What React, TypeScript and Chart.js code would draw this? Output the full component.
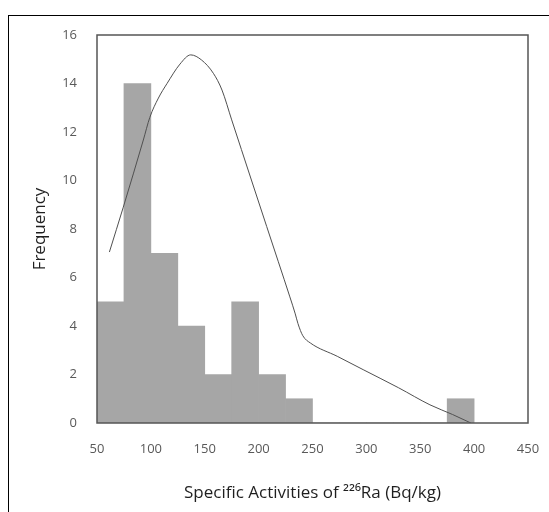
import React, { useEffect, useRef } from "react";
import { Chart, registerables } from "chart.js";

Chart.register(...registerables);

// Histogram bins (centers of 25-wide bins) and frequencies
const binCenters = [62.5, 87.5, 112.5, 137.5, 162.5, 187.5, 212.5, 237.5, 262.5, 287.5, 312.5, 337.5, 362.5, 387.5];
const frequencies = [5, 14, 7, 4, 2, 5, 2, 1, 0, 0, 0, 0, 0, 1];

// Fitted distribution curve
const curveX = [61.5, 74.4, 93, 99, 107, 115, 127, 137, 147, 158, 166, 175, 184, 193.6, 207.5, 218.3, 229, 234, 236.5, 241, 248, 273, 297, 330, 359, 380, 397];
const curveY = [7.05, 8.9, 11.67, 12.6, 13.4, 14.0, 14.8, 15.18, 14.97, 14.42, 13.73, 12.5, 11.28, 9.98, 8.1, 6.65, 5.2, 4.5, 4.1, 3.6, 3.3, 2.75, 2.2, 1.45, 0.75, 0.35, 0];

const xTicks = [50, 100, 150, 200, 250, 300, 350, 400, 450];
const yTicks = [0, 2, 4, 6, 8, 10, 12, 14, 16];

const FONT = "'Open Sans', 'DejaVu Sans', sans-serif";

export default function App() {
  const ref = useRef<HTMLCanvasElement | null>(null);
  useEffect(() => {
    if (!ref.current) return;
    const framePlugin = {
      id: "frame",
      beforeDraw(chart: any) {
        const ctx = chart.ctx;
        ctx.save();
        ctx.fillStyle = "#fff";
        ctx.fillRect(0, 0, chart.width, chart.height);
        ctx.strokeStyle = "#000";
        ctx.lineWidth = 1;
        ctx.strokeRect(8.5, 15.5, 700, 700);
        ctx.restore();
      },
      afterDraw(chart: any) {
        const { left, right, top, bottom } = chart.chartArea;
        const ctx = chart.ctx;
        ctx.save();
        ctx.strokeStyle = "#555";
        ctx.lineWidth = 1.5;
        ctx.strokeRect(left, top, right - left, bottom - top);
        ctx.restore();
      },
    };
    const chart = new Chart(ref.current, {
      type: "bar",
      data: {
        datasets: [
          {
            type: "line",
            data: curveX.map((x, i) => ({ x, y: curveY[i] })),
            borderColor: "#505050",
            borderWidth: 1,
            pointRadius: 0,
            cubicInterpolationMode: "monotone",
            fill: false,
            order: 0,
          } as any,
          {
            type: "bar",
            data: binCenters.map((x, i) => ({ x, y: frequencies[i] })),
            backgroundColor: "#a6a6a6",
            borderWidth: 0,
            barPercentage: 1,
            categoryPercentage: 1,
            order: 1,
          } as any,
        ],
      },
      options: {
        animation: false,
        responsive: true,
        maintainAspectRatio: false,
        layout: { padding: { left: 0, right: 21, top: 35, bottom: 0 } },
        plugins: { legend: { display: false }, tooltip: { enabled: false } },
        scales: {
          x: {
            type: "linear",
            min: 50,
            max: 450,
            offset: false,
            grid: { display: false, drawTicks: false },
            border: { display: false },
            afterBuildTicks: (s: any) => {
              s.ticks = xTicks.map((v) => ({ value: v }));
            },
            afterFit: (s: any) => {
              s.height = 89;
              s.paddingLeft = 0;
              s.paddingRight = 0;
            },
            ticks: { padding: 18, color: "#595959", font: { family: FONT, size: 13 }, maxRotation: 0 },
            title: {
              display: true,
              text: "Specific Activities of ²²⁶Ra (Bq/kg)",
              color: "#1f1f1f",
              font: { family: FONT, size: 17 },
              padding: { top: 0, bottom: 9 },
            },
          },
          y: {
            type: "linear",
            min: 0,
            max: 16,
            grid: { display: false, drawTicks: false },
            border: { display: false },
            afterBuildTicks: (s: any) => {
              s.ticks = yTicks.map((v) => ({ value: v }));
            },
            afterFit: (s: any) => {
              s.width = 97;
              s.paddingTop = 0;
              s.paddingBottom = 0;
            },
            ticks: { padding: 20, color: "#595959", font: { family: FONT, size: 13 } },
            title: {
              display: true,
              text: "Frequency",
              color: "#1f1f1f",
              font: { family: FONT, size: 17 },
              padding: { top: 30, bottom: 0 },
            },
          },
        },
      } as any,
      plugins: [framePlugin],
    });
    return () => chart.destroy();
  }, []);
  return (
    <div style={{ position: "fixed", left: 0, top: 0, width: 549, height: 512 }}>
      <canvas ref={ref} />
    </div>
  );
}
